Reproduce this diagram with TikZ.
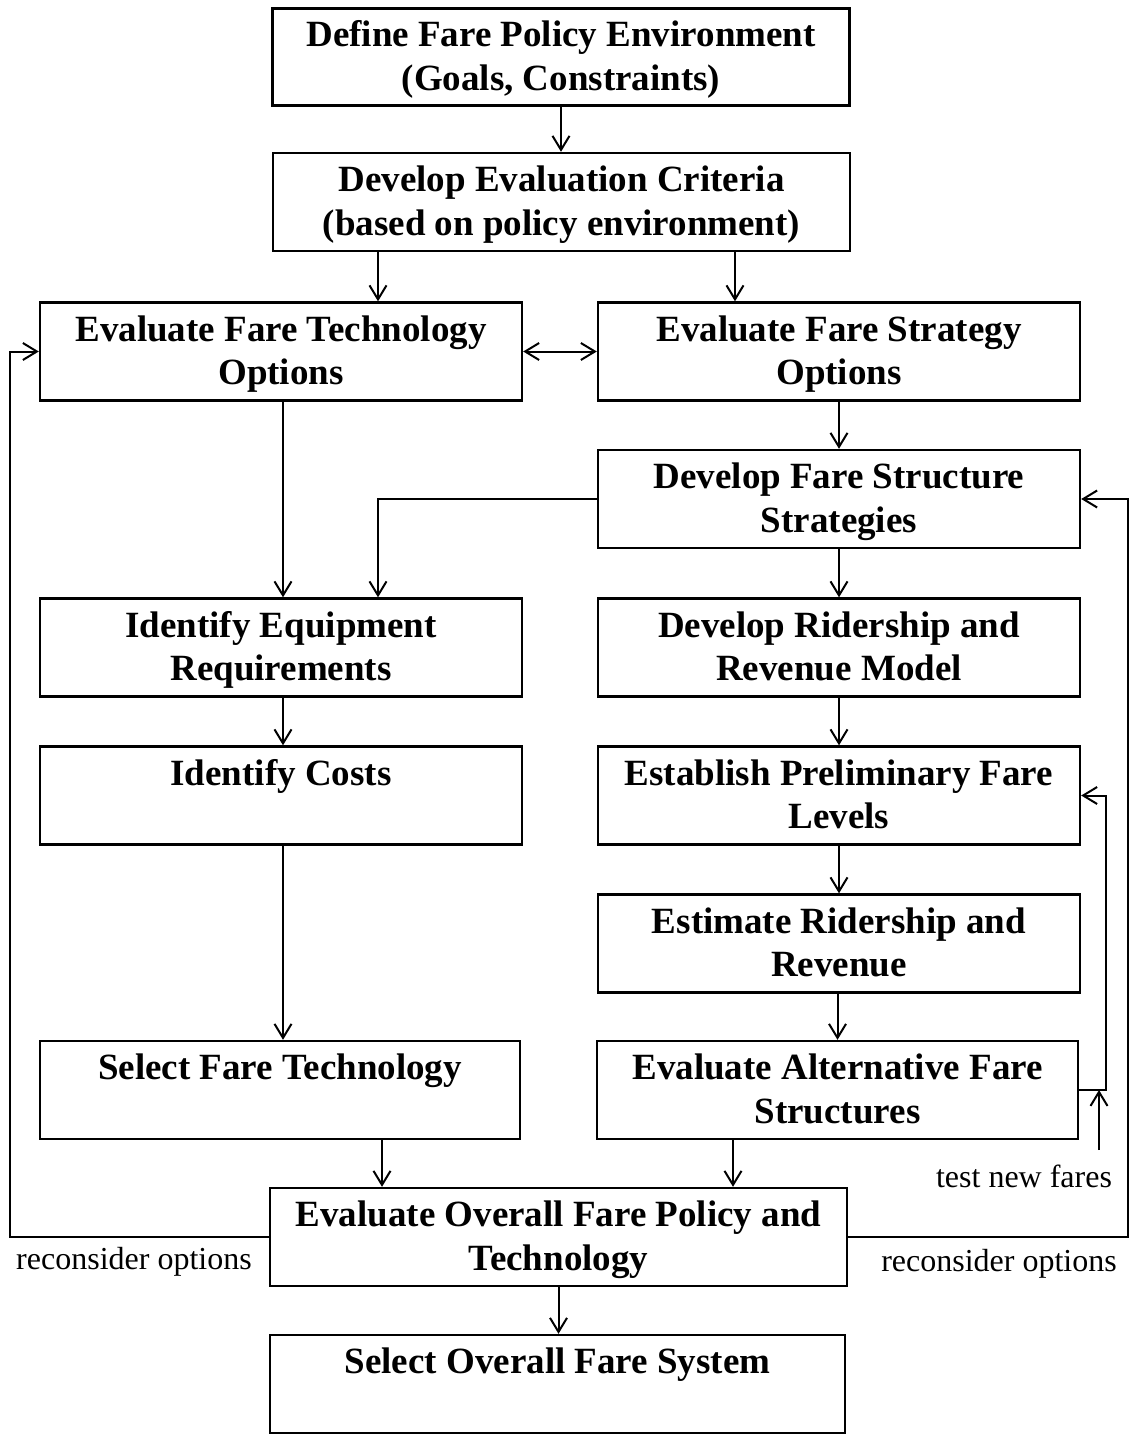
\documentclass[tikz,border=0pt]{standalone}
\usepackage{fontspec}
\setmainfont{Liberation Serif}
\usetikzlibrary{arrows.meta}
\newcommand{\bxt}[2]{\rule{0pt}{31pt}#1\\#2\rule[-8pt]{0pt}{8pt}}
\begin{document}
\begin{tikzpicture}[x=1pt,y=-1pt,
  box/.style={draw, line width=2.4pt, minimum width=482pt, minimum height=98pt, inner sep=0pt, align=center,
    font=\fontsize{37}{43.5}\selectfont\bfseries},
  widebox/.style={box, minimum width=577pt},
  arr/.style={line width=2pt, -{Straight Barb[length=14pt,width=17pt,line width=2pt]}},
  dblarr/.style={line width=2pt, {Straight Barb[length=14pt,width=17pt,line width=2pt]}-{Straight Barb[length=14pt,width=17pt,line width=2pt]}},
  lbl/.style={font=\fontsize{32}{38}\selectfont, inner sep=0pt}]
\useasboundingbox (0,0) rectangle (1133,1434);

\node[widebox, minimum height=97pt] (b1) at (561,57) {\bxt{Define Fare Policy Environment}{(Goals, Constraints)}};
\node[widebox] (b2) at (561.5,202) {\bxt{Develop Evaluation Criteria}{(based on policy environment)}};
\node[box] (b3) at (281,351.5) {\bxt{Evaluate Fare Technology}{Options}};
\node[box] (b4) at (839,351.5) {\bxt{Evaluate Fare Strategy}{Options}};
\node[box] (b5) at (839,499) {\bxt{Develop Fare Structure}{Strategies}};
\node[box] (b6) at (281,647.5) {\bxt{Identify Equipment}{Requirements}};
\node[box] (b7) at (839,647.5) {\bxt{Develop Ridership and}{Revenue Model}};
\node[box] (b8) at (281,795.5) {\bxt{Identify Costs}{}};
\node[box] (b9) at (839,795.5) {\bxt{Establish Preliminary Fare}{Levels}};
\node[box] (b10) at (839,943.5) {\bxt{Estimate Ridership and}{Revenue}};
\node[box, minimum width=480pt] (b11) at (280,1090) {\bxt{Select Fare Technology}{}};
\node[box, minimum width=481pt] (b12) at (837.5,1090) {\bxt{Evaluate Alternative Fare}{Structures}};
\node[widebox] (b13) at (558.5,1237) {\bxt{Evaluate Overall Fare Policy and}{Technology}};
\node[widebox, minimum width=575pt] (b14) at (557.5,1384) {\bxt{Select Overall Fare System}{}};

\node[lbl] (l1) at (134,1262) {reconsider options};
\node[lbl] (l2) at (999,1264) {reconsider options};
\node[lbl] (l3) at (1024,1176) {test new fares};

\coordinate (x378) at (378,0);
\coordinate (x735) at (735,0);
\coordinate (x283) at (283,0);
\coordinate (x382) at (382,0);
\coordinate (x733) at (733,0);
\coordinate (xl) at (10,0);
\coordinate (xr1) at (1106,0);
\coordinate (xr2) at (1128,0);
\coordinate (tnf) at (1099,1150);

\draw[arr] (b1.south) -- (b1.south |- b2.north);
\draw[arr] (b2.south -| x378) -- (b3.north -| x378);
\draw[arr] (b2.south -| x735) -- (b4.north -| x735);
\draw[dblarr] (b3.east) -- (b4.west);
\draw[arr] (b4.south) -- (b5.north);
\draw[arr] (b3.south -| x283) -- (b6.north -| x283);
\draw[arr] (b5.west) -- (b5.west -| x378) -- (b6.north -| x378);
\draw[arr] (b5.south) -- (b7.north);
\draw[arr] (b6.south -| x283) -- (b8.north -| x283);
\draw[arr] (b7.south) -- (b9.north);
\draw[arr] (b8.south -| x283) -- (b11.north -| x283);
\draw[arr] (b9.south) -- (b10.north);
\draw[arr] (b10.south -| b12.north) -- (b12.north);
\draw[arr] (b11.south -| x382) -- (b13.north -| x382);
\draw[arr] (b12.south -| x733) -- (b13.north -| x733);
\draw[arr] (b13.south) -- (b13.south |- b14.north);
\draw[arr] (b12.east) -- (b12.east -| xr1) -- (b9.east -| xr1) -- (b9.east);
\draw[arr] (tnf) -- (tnf |- b12.east);
\draw[arr] (b13.west) -- (b13.west -| xl) -- (b3.west -| xl) -- (b3.west);
\draw[arr] (b13.east) -- (b13.east -| xr2) -- (b5.east -| xr2) -- (b5.east);
\end{tikzpicture}
\end{document}
